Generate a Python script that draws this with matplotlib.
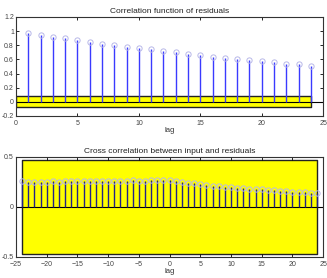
import numpy as np
import matplotlib.pyplot as plt

plt.rcParams['font.family'] = ['Liberation Sans', 'DejaVu Sans']

# autocorrelation of residuals, lags 1..24
acf_lags = list(range(1, 25))
acf_vals = [0.97, 0.95, 0.92, 0.90, 0.87, 0.85, 0.82, 0.80, 0.78, 0.76, 0.74, 0.72,
            0.70, 0.68, 0.66, 0.64, 0.62, 0.61, 0.59, 0.58, 0.56, 0.54, 0.53, 0.51]
acf_conf = 0.075

# cross correlation input vs residuals, lags -24..24
ccf_lags = list(range(-24, 25))
ccf_vals = [0.26, 0.25, 0.25, 0.25, 0.25, 0.26, 0.25, 0.26, 0.26, 0.26, 0.26, 0.26,
            0.26, 0.26, 0.26, 0.26, 0.26, 0.26, 0.27, 0.26, 0.26, 0.27, 0.27, 0.27,
            0.27, 0.26, 0.25, 0.24, 0.235, 0.225, 0.22, 0.21, 0.205, 0.20, 0.195, 0.19,
            0.185, 0.18, 0.175, 0.175, 0.17, 0.165, 0.16, 0.155, 0.15, 0.15, 0.145, 0.14, 0.14]
ccf_conf = 0.47

fig = plt.figure(figsize=(3.27, 2.78), dpi=100)
ax1 = fig.add_axes([0.049, 0.583, 0.939, 0.356])
ax2 = fig.add_axes([0.049, 0.076, 0.939, 0.360])


def stem_panel(ax, lags, vals, conf, xlim, ylim, yticks, title, col):
    ax.fill_between([lags[0] if lags[0] < 0 else 0, lags[-1]], -conf, conf,
                    facecolor='#ffff00', edgecolor='#222222', linewidth=1.0, zorder=1)
    ax.axhline(0, color='black', linewidth=0.8, zorder=2)
    ax.vlines(lags, 0, vals, color=col, linewidth=1.0, zorder=3)
    ax.plot(lags, vals, 'o', markersize=3.8, markerfacecolor='none',
            markeredgecolor='#b8b8e8', markeredgewidth=0.7, zorder=4)
    ax.set_xlim(*xlim)
    ax.set_ylim(*ylim)
    ax.set_yticks(yticks)
    ax.set_xticks(np.arange(xlim[0], xlim[1] + 1, 5))
    ax.set_title(title, fontsize=6, pad=3, color='#222222')
    ax.set_xlabel('lag', fontsize=5.5, labelpad=0, color='#333333')
    ax.tick_params(direction='in', top=True, right=True, labelsize=5, length=2.5,
                   width=0.6, pad=1.5, labelcolor='#444444')
    ax.tick_params(axis='x', pad=3)
    for s in ax.spines.values():
        s.set_linewidth(0.8)
        s.set_color('#333333')


stem_panel(ax1, acf_lags, acf_vals, acf_conf, (0, 25), (-0.2, 1.2),
           [-0.2, 0, 0.2, 0.4, 0.6, 0.8, 1, 1.2], 'Correlation function of residuals',
           '#3a3aff')
ax1.set_yticklabels(['-0.2', '0', '0.2', '0.4', '0.6', '0.8', '1', '1.2'])

stem_panel(ax2, ccf_lags, ccf_vals, ccf_conf, (-25, 25), (-0.5, 0.5),
           [-0.5, 0, 0.5], 'Cross correlation between input and residuals', '#22228a')
ax2.set_yticklabels(['-0.5', '0', '0.5'])

fig.savefig('out.png', dpi=100)
